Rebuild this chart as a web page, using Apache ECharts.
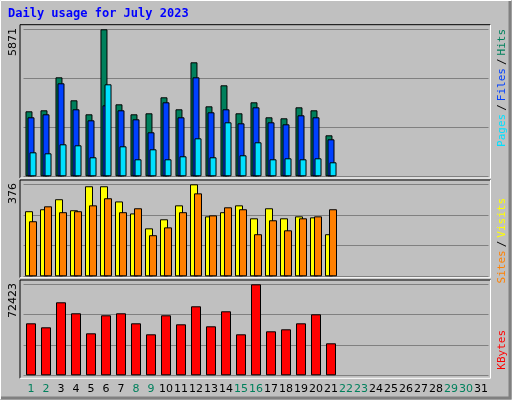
<!DOCTYPE html>
<html><head><meta charset="utf-8">
<script src="https://cdn.jsdelivr.net/npm/echarts@6/dist/echarts.min.js"></script>
<style>html,body{margin:0;padding:0;background:#C0C0C0}#c{width:512px;height:400px}</style>
</head><body><div id="c"></div>
<script>
const days = Array.from({length:31},(_,i)=>String(i+1));
const weekend = ['1','2','8','9','15','16','22','23','29','30'];
const hits  = [2596,2636,3953,3035,2476,5871,2875,2476,2516,3155,2676,4553,2795,3634,2516,2955,2356,2316,2755,2636,1637];
const files = [2356,2476,3714,2676,2236,2835,2636,2276,1757,2955,2356,3953,2556,2676,2116,2755,2156,2076,2436,2356,1477];
const pages = [958,918,1278,1238,759,3674,1198,679,1078,679,799,1517,759,2156,839,1358,679,719,679,719,559];
const visits = [266,274,315,270,368,368,306,257,196,233,290,376,245,262,290,237,278,237,245,241,172];
const sites  = [225,286,262,266,290,319,262,278,168,200,262,339,249,282,274,172,229,188,237,245,274];
const kbytes = [41387,38203,58101,49346,33428,47754,49346,41387,32632,47754,40591,54917,38999,50938,32632,72423,35020,36611,41387,48550,25469];
const maxHits = 5871, maxVisits = 376, maxKB = 72423;

const chart = echarts.init(document.getElementById('c'), null, {renderer:'canvas'});
const grids = [
  {left:23.5, width:465, top:29.3, height:147},
  {left:23.5, width:465, top:184.3, height:92},
  {left:23.5, width:465, top:284.3, height:91}
];
function xa(i, show){
  return {type:'category', gridIndex:i, data:days, boundaryGap:true,
    axisLine:{show:false}, axisTick:{show:false}, splitLine:{show:false},
    axisLabel:{show:show, interval:0, hideOverlap:false, margin:8, fontSize:11, fontFamily:'DejaVu Sans',
      color:(v)=>weekend.includes(v)?'#00805C':'#000000'}};
}
function ya(i, max){
  return {type:'value', gridIndex:i, min:0, max:max, interval:max/3,
    axisLine:{show:false}, axisTick:{show:false}, axisLabel:{show:false},
    splitLine:{show:true, lineStyle:{color:'#808080', width:1}}};
}
const bs = {borderColor:'#000', borderWidth:1};
function bar(name, data, xi, color, w, gap, z){
  return {name, type:'bar', data, xAxisIndex:xi, yAxisIndex:xi, barWidth:w, barGap:gap,
    itemStyle:Object.assign({color}, bs), z, animation:false, silent:true};
}
function frame(x1,y1,x2,y2){
  return [
    {type:'line', shape:{x1:x1,y1:y1,x2:x2,y2:y1}, style:{stroke:'#000',lineWidth:1}, z:20},
    {type:'line', shape:{x1:x1,y1:y1,x2:x1,y2:y2}, style:{stroke:'#000',lineWidth:1}, z:20},
    {type:'line', shape:{x1:x1,y1:y2,x2:x2,y2:y2}, style:{stroke:'#fff',lineWidth:1}, z:20},
    {type:'line', shape:{x1:x2,y1:y1,x2:x2,y2:y2}, style:{stroke:'#fff',lineWidth:1}, z:20}
  ];
}
const mono = 'DejaVu Sans Mono';
const f11 = '11px "'+mono+'"';
chart.setOption({
  backgroundColor:'#C0C0C0',
  animation:false,
  grid:grids,
  xAxis:[xa(0,false), xa(1,false), xa(2,true)],
  yAxis:[ya(0,maxHits), ya(1,maxVisits), ya(2,maxKB)],
  series:[
    bar('Hits', hits, 0, '#00805C', 7, '-71%', 2),
    bar('Files', files, 0, '#0040FF', 7, '-71%', 3),
    bar('Pages', pages, 0, '#00E0FF', 7, '-71%', 4),
    bar('Visits', visits, 1, '#FFFF00', 8, '-50%', 2),
    bar('Sites', sites, 1, '#FF8000', 8, '-50%', 3),
    bar('KBytes', kbytes, 2, '#FF0000', 10, '0%', 2)
  ],
  graphic:[
    {type:'line', shape:{x1:0.5,y1:0.5,x2:511,y2:0.5}, style:{stroke:'#fff',lineWidth:1}},
    {type:'line', shape:{x1:0.5,y1:0.5,x2:0.5,y2:399}, style:{stroke:'#fff',lineWidth:1}},
    {type:'line', shape:{x1:1,y1:398,x2:511,y2:398}, style:{stroke:'#808080',lineWidth:3}},
    {type:'line', shape:{x1:510,y1:1,x2:510,y2:399}, style:{stroke:'#808080',lineWidth:3}},
    {type:'text', left:8, top:8, style:{text:'Daily usage for July 2023', fill:'#0000FF', font:'bold 12px "'+mono+'"'}},
    ...frame(20,24.7,490.5,178),
    ...frame(20,180,490.5,277.7),
    ...frame(20,280,490.5,378.3),
    {type:'text', x:13, y:28, rotation:Math.PI/2, style:{text:String(maxHits), align:'right', verticalAlign:'middle', fill:'#000', font:'11px "DejaVu Sans"'}},
    {type:'text', x:13, y:183, rotation:Math.PI/2, style:{text:String(maxVisits), align:'right', verticalAlign:'middle', fill:'#000', font:'11px "DejaVu Sans"'}},
    {type:'text', x:13, y:283, rotation:Math.PI/2, style:{text:String(maxKB), align:'right', verticalAlign:'middle', fill:'#000', font:'11px "DejaVu Sans"'}},
    {type:'text', x:502, y:29, rotation:Math.PI/2, style:{text:'{p|Pages}{s|/}{f|Files}{s|/}{h|Hits}', align:'right', verticalAlign:'middle', font:f11,
      rich:{p:{fill:'#00E0FF',font:f11}, s:{fill:'#000',font:f11, padding:[0,3]}, f:{fill:'#0040FF',font:f11}, h:{fill:'#00805C',font:f11}}}},
    {type:'text', x:502, y:198, rotation:Math.PI/2, style:{text:'{a|Sites}{s|/}{b|Visits}', align:'right', verticalAlign:'middle', font:f11,
      rich:{a:{fill:'#FF8000',font:f11}, s:{fill:'#000',font:f11, padding:[0,3]}, b:{fill:'#FFFF00',font:f11}}}},
    {type:'text', x:502, y:330, rotation:Math.PI/2, style:{text:'KBytes', align:'right', verticalAlign:'middle', fill:'#FF0000', font:f11}}
  ]
});
</script></body></html>
